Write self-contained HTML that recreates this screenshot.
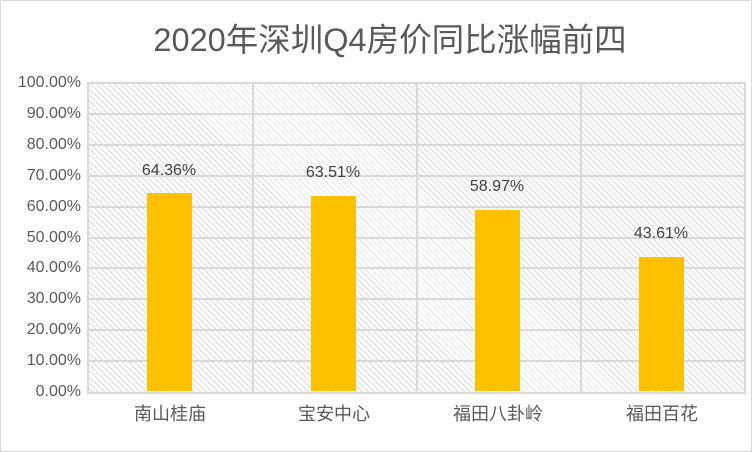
<!DOCTYPE html>
<html><head><meta charset="utf-8"><style>
body{margin:0;background:#fff}
.c{position:relative;width:750px;height:450px;border:1px solid #d9d9d9;background:#fff;font-family:"Liberation Sans","Noto Sans CJK SC",sans-serif;overflow:hidden}
.t{position:absolute;top:21px;left:14px;width:750px;text-align:center;font-size:32.5px;color:#595959;line-height:36px}
.p{position:absolute;left:86px;top:81px;width:655px;height:308px;border:2px solid #d9d9d9;
background:repeating-linear-gradient(45deg,#fff 0 2px,#dcdcdc 2px 3px,#fff 3px 4.24px)}
.h{position:absolute;left:0;width:655px;height:2px;background:#d9d9d9}
.v{position:absolute;top:0;width:2px;height:308px;background:#d9d9d9}
.y{position:absolute;left:0;width:80px;text-align:right;font-size:16px;color:#595959;line-height:18px}
.b{position:absolute;width:45px;background:#ffc000}
.l{position:absolute;width:100px;text-align:center;font-size:16px;color:#404040;line-height:18px}
.x{position:absolute;top:402px;width:164px;text-align:center;font-size:18px;color:#595959;line-height:22px}
</style></head><body><div class="c">
<div class="t">2020年深圳Q4房价同比涨幅前四</div>
<div class="p">
<div class="h" style="top:29px"></div><div class="h" style="top:60px"></div><div class="h" style="top:91px"></div><div class="h" style="top:122px"></div><div class="h" style="top:153px"></div><div class="h" style="top:183px"></div><div class="h" style="top:214px"></div><div class="h" style="top:245px"></div><div class="h" style="top:276px"></div>
<div class="v" style="left:163px"></div><div class="v" style="left:327px"></div><div class="v" style="left:491px"></div>
</div>
<div class="y" style="top:73px">100.00%</div><div class="y" style="top:104px">90.00%</div><div class="y" style="top:135px">80.00%</div><div class="y" style="top:166px">70.00%</div><div class="y" style="top:197px">60.00%</div><div class="y" style="top:228px">50.00%</div><div class="y" style="top:258px">40.00%</div><div class="y" style="top:289px">30.00%</div><div class="y" style="top:320px">20.00%</div><div class="y" style="top:351px">10.00%</div><div class="y" style="top:382px">0.00%</div>
<div class="b" style="left:146px;top:192px;height:198px"></div>
<div class="b" style="left:310px;top:195px;height:195px"></div>
<div class="b" style="left:474px;top:209px;height:181px"></div>
<div class="b" style="left:638px;top:256px;height:134px"></div>
<div class="l" style="left:118px;top:161px">64.36%</div>
<div class="l" style="left:282px;top:163px">63.51%</div>
<div class="l" style="left:446px;top:177px">58.97%</div>
<div class="l" style="left:610px;top:224px">43.61%</div>
<div class="x" style="left:87px">南山桂庙</div><div class="x" style="left:251px">宝安中心</div><div class="x" style="left:415px">福田八卦岭</div><div class="x" style="left:579px">福田百花</div>
</div></body></html>
